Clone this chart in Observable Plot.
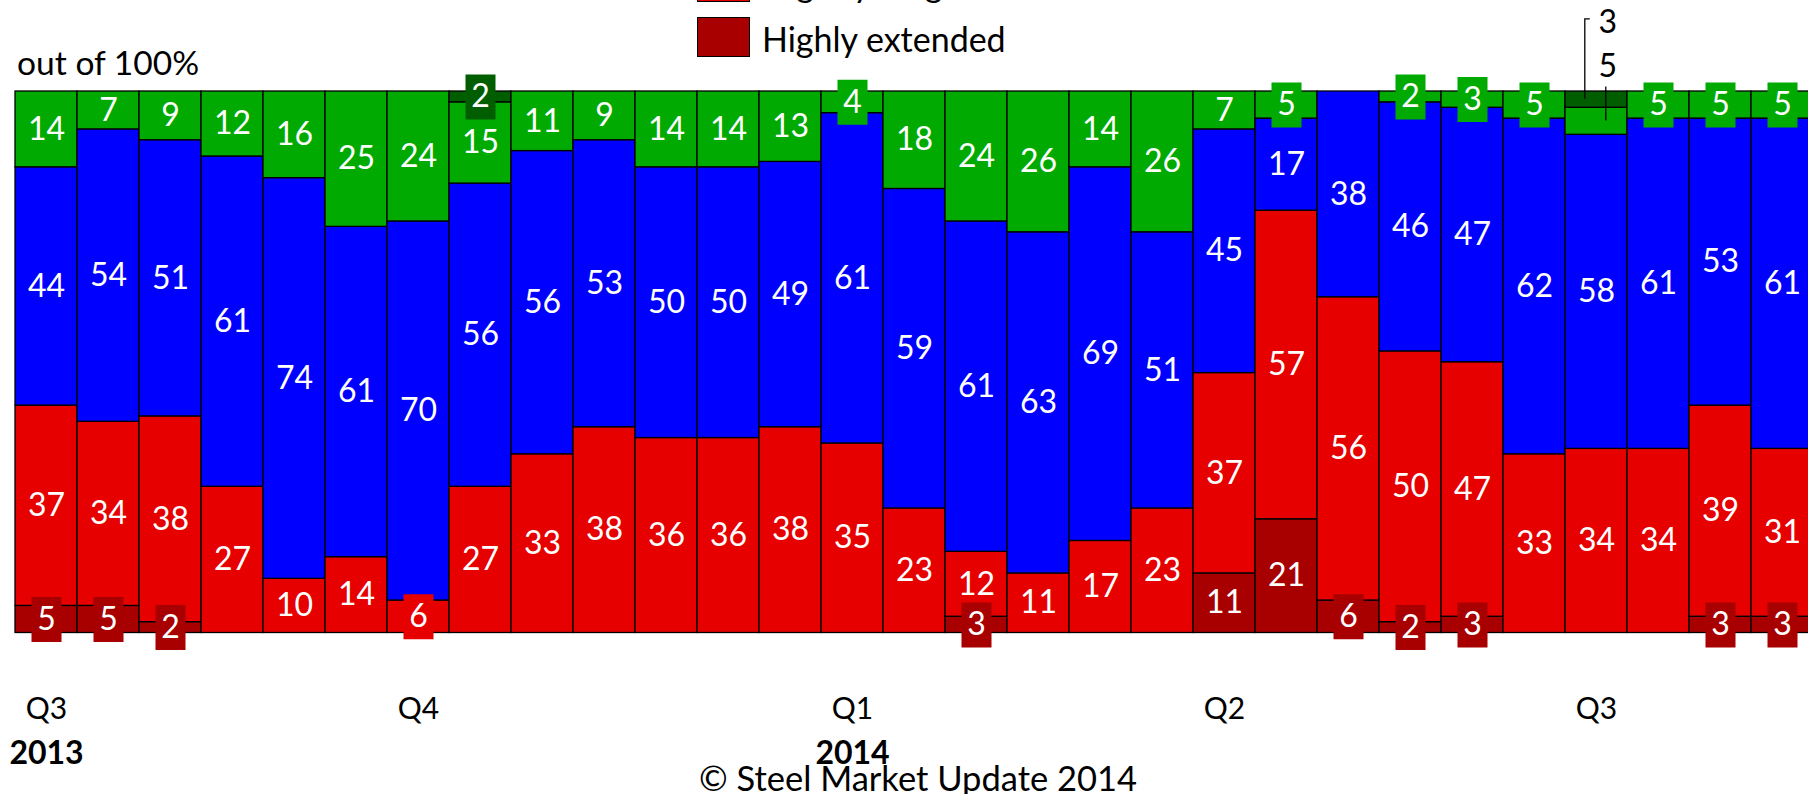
<!DOCTYPE html>
<html>
<head>
<meta charset="utf-8">
<script src="https://cdn.jsdelivr.net/npm/d3@7"></script>
<script src="https://cdn.jsdelivr.net/npm/@observablehq/plot@0.6"></script>
<style>
html, body { margin: 0; padding: 0; background: #fff; overflow: hidden; }
#wrap { position: relative; width: 1808px; height: 794px; overflow: hidden; font-family: Lato, sans-serif; color: #000; }
#header { position: relative; height: 80px; }
.abs { position: absolute; white-space: nowrap; line-height: 1; }
.swatch { position: absolute; box-sizing: border-box; border: 1.5px solid #000; }
#chart { position: absolute; top: 80px; left: 0; }
</style>
</head>
<body>
<div id="wrap">
  <div id="header"></div>
  <div id="chart"></div>
</div>
<script>
// ---- data ----
const bars = [1,2,3,4,5,6,7,8,9,10,11,12,13,14,15,16,17,18,19,20,21,22,23,24,25,26,27,28,29];

const seriesOrder  = ["Highly extended", "Slightly longer", "Normal", "Slightly shorter", "Much shorter"];
const seriesColors = ["#A80000", "#E60000", "#0000FF", "#00AA00", "#005E00"];

const highlyExtended  = [5,5,2,0,0,0,0,0,0,0,0,0,0,0,0,3,0,0,0,11,21,6,2,3,0,0,0,3,3];
const slightlyLonger  = [37,34,38,27,10,14,6,27,33,38,36,36,38,35,23,12,11,17,23,37,57,56,50,47,33,34,34,39,31];
const normal          = [44,54,51,61,74,61,70,56,56,53,50,50,49,61,59,61,63,69,51,45,17,38,46,47,62,58,61,53,61];
const slightlyShorter = [14,7,9,12,16,25,24,15,11,9,14,14,13,4,18,24,26,14,26,7,5,0,2,3,5,5,5,5,5];
const muchShorter     = [0,0,0,0,0,0,0,2,0,0,0,0,0,0,0,0,0,0,0,0,0,0,0,0,0,3,0,0,0];

const quarterTickBars   = [1, 7, 14, 20, 26];
const quarterTickLabels = ["Q3", "Q4", "Q1", "Q2", "Q3"];
const yearTickBars      = [1, 14];
const yearTickLabels    = ["2013", "2014"];

// labels drawn outside the bar with leader lines
const outsideLabelBar = 26;
const outsideLabelSeries = ["Much shorter", "Slightly shorter"];

const subtitleText = "out of 100%";
const captionText = "© Steel Market Update 2014";
const legendShown = ["Slightly longer", "Highly extended"];

// ---- tidy table ----
const seriesValues = [highlyExtended, slightlyLonger, normal, slightlyShorter, muchShorter];
const rows = [];
bars.forEach((b, i) => {
  seriesOrder.forEach((s, k) => {
    const v = seriesValues[k][i];
    if (v > 0) rows.push({bar: b, series: s, value: v});
  });
});
const isOutside = d => d.bar === outsideLabelBar && outsideLabelSeries.includes(d.series);

// ---- header (subtitle + legend) ----
const header = document.getElementById("header");
const sub = document.createElement("div");
sub.className = "abs";
sub.style.cssText = "left:17px;top:46.2px;font-size:33.6px;";
sub.textContent = subtitleText;
header.appendChild(sub);

legendShown.forEach((name, j) => {
  const top = 17 - 55 * (legendShown.length - 1 - j);
  const sw = document.createElement("div");
  sw.className = "swatch";
  sw.style.cssText = `left:697px;top:${top}px;width:53px;height:40px;background:${seriesColors[seriesOrder.indexOf(name)]};`;
  header.appendChild(sw);
  const t = document.createElement("div");
  t.className = "abs";
  t.style.cssText = `left:762px;top:${top + 4.8}px;font-size:34px;`;
  t.textContent = name;
  header.appendChild(t);
});

// ---- caption ----
const cap = document.createElement("div");
cap.className = "abs";
cap.style.cssText = "left:918px;top:761.4px;font-size:34.5px;transform:translateX(-50%);";
cap.textContent = captionText;
document.getElementById("wrap").appendChild(cap);

// ---- symbols ----
const boxSymbol = {draw(ctx) { ctx.rect(-15, -22.5, 30, 45); }};
const leaderTop = {draw(ctx) { ctx.moveTo(-11.7, -0.8); ctx.lineTo(-11.7, -80.8); ctx.lineTo(-6.7, -80.8); }};
const leaderSecond = {draw(ctx) { ctx.moveTo(9.3, -0.8); ctx.lineTo(9.3, -34.8); }};

const stackOpts = {x: "bar", y: "value", z: "series", order: seriesOrder};

const qMap = new Map(quarterTickBars.map((b, i) => [b, quarterTickLabels[i]]));
const yMap = new Map(yearTickBars.map((b, i) => [b, yearTickLabels[i]]));

const plot = Plot.plot({
  width: 1808,
  height: 686,
  marginTop: 11,
  marginBottom: 133.5,
  marginLeft: 0,
  marginRight: 0,
  style: {fontFamily: "Lato, sans-serif", background: "white", color: "black", overflow: "visible"},
  x: {type: "band", domain: bars, range: [12.3, 1815.2], padding: 0},
  y: {domain: [0, 100], axis: null},
  color: {domain: seriesOrder, range: seriesColors},
  marks: [
    Plot.barY(rows, Plot.stackY({...stackOpts, fill: "series", stroke: "black", strokeWidth: 1.3})),
    Plot.dot(rows, Plot.filter(d => !isOutside(d) && d.value < 7, Plot.stackY({...stackOpts, fill: "series", symbol: boxSymbol}))),
    Plot.text(rows, Plot.filter(d => !isOutside(d), Plot.stackY({...stackOpts, text: "value", fill: "white", fontSize: 32}))),
    Plot.dot(rows, Plot.filter(d => isOutside(d) && d.series === outsideLabelSeries[0],
      Plot.stackY({...stackOpts, symbol: leaderTop, fill: "none", stroke: "black", strokeWidth: 1.3}))),
    Plot.dot(rows, Plot.filter(d => isOutside(d) && d.series === outsideLabelSeries[1],
      Plot.stackY({...stackOpts, symbol: leaderSecond, fill: "none", stroke: "black", strokeWidth: 1.3}))),
    Plot.text(rows, Plot.filter(d => isOutside(d) && d.series === outsideLabelSeries[0],
      Plot.stackY({...stackOpts, text: "value", fill: "black", fontSize: 32, dx: 11.3, dy: -76.6}))),
    Plot.text(rows, Plot.filter(d => isOutside(d) && d.series === outsideLabelSeries[1],
      Plot.stackY({...stackOpts, text: "value", fill: "black", fontSize: 32, dx: 11.3, dy: -54.3}))),
    Plot.axisX(quarterTickBars, {tickFormat: d => qMap.get(d), tickSize: 0, tickPadding: 64.2, fontSize: 30, label: null}),
    Plot.axisX(yearTickBars, {tickFormat: d => yMap.get(d), tickSize: 0, tickPadding: 107.8, fontSize: 32, fontWeight: "bold", label: null})
  ]
});
document.getElementById("chart").appendChild(plot);
</script>
</body>
</html>
